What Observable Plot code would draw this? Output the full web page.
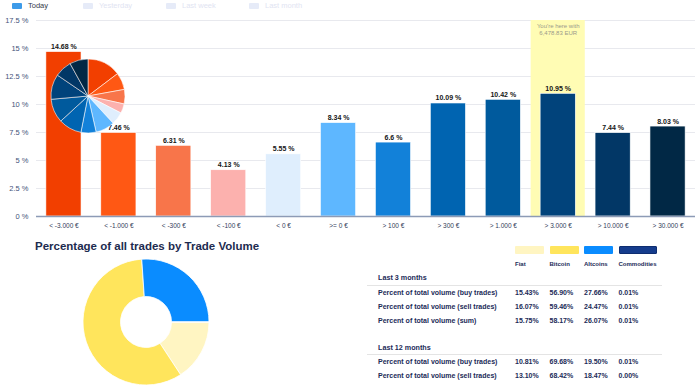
<!DOCTYPE html>
<html><head><meta charset="utf-8">
<script src="https://cdn.jsdelivr.net/npm/d3@7"></script>
<script src="https://cdn.jsdelivr.net/npm/@observablehq/plot@0.6"></script>
<style>
body{margin:0;background:#fff;font-family:"Liberation Sans",Arial,sans-serif;}
#root{position:relative;width:700px;height:387px;overflow:hidden;}
.abs{position:absolute;white-space:nowrap;}
.leg{font-size:7.5px;line-height:9px;}
.sw{position:absolute;border-radius:1px;}
.title{font-size:11.5px;font-weight:bold;color:#1d2b4f;}
.tb{font-size:7px;font-weight:bold;color:#1b2b58;line-height:9px;}
.hdr{font-size:6px;font-weight:bold;color:#1b2b58;line-height:8px;}
.hline{position:absolute;height:1px;background:#e4e4e4;}
</style></head><body><div id="root"></div>
<script>
// ---- data ----
const categories = ["< -3.000 €","< -1.000 €","< -300 €","< -100 €","< 0 €",">= 0 €","> 100 €","> 300 €","> 1.000 €","> 3.000 €","> 10.000 €","> 30.000 €"];
const shares = [14.68, 7.46, 6.31, 4.13, 5.55, 8.34, 6.6, 10.09, 10.42, 10.95, 7.44, 8.03];
const barColors = ["#f23f00","#ff5814","#f8754a","#fcb1ae","#dfeefd","#5eb7ff","#1281d9","#0064b1","#005a9d","#01437b","#023766","#012845"];
const yTicks = [0, 2.5, 5, 7.5, 10, 12.5, 15, 17.5];
const currentBucket = "> 3.000 €";
const currentNote = ["You're here with", "6,478.83 EUR"];
const legendItems = ["Today", "Yesterday", "Last week", "Last month"];
const titleText = "Percentage of all trades by Trade Volume";
const assetClasses = ["Fiat", "Bitcoin", "Altcoins", "Commodities"];
const assetColors = ["#fff5c2", "#ffe55c", "#0a8cff", "#153c8c"];
const donutShares = [15.75, 58.17, 26.07, 0.01];
const rowLabels = ["Percent of total volume (buy trades)", "Percent of total volume (sell trades)", "Percent of total volume (sum)"];
const groups = ["Last 3 months", "Last 12 months"];
const values3m = [[15.43, 56.90, 27.66, 0.01], [16.07, 59.46, 24.47, 0.01], [15.75, 58.17, 26.07, 0.01]];
const values12m = [[10.81, 69.68, 19.50, 0.01], [13.10, 68.42, 18.47, 0.00]];

const root = document.getElementById("root");
function el(tag, cls, css, text) {
  const e = document.createElement(tag);
  if (cls) e.className = cls;
  Object.assign(e.style, css || {});
  if (text != null) e.textContent = text;
  root.appendChild(e);
  return e;
}

// ---- bar chart ----
const data = categories.map((c, i) => ({cat: c, v: shares[i]}));
const pieArcs = d3.pie().sort(null).value(d => d.v)(data);
const smallPie = (index, scales) => {
  const g = d3.create("svg:g").attr("transform", "translate(88,96)");
  const arc = d3.arc().innerRadius(0).outerRadius(37);
  g.selectAll("path").data(pieArcs).join("path")
    .attr("d", arc).attr("fill", d => scales.color(d.data.cat))
    .attr("stroke", "#fff").attr("stroke-width", 0.7).attr("stroke-opacity", 0.8);
  return g.node();
};

const bars = Plot.plot({
  width: 700, height: 232,
  marginTop: 20, marginBottom: 16, marginLeft: 36, marginRight: 5,
  x: {domain: categories, paddingInner: 0.36, paddingOuter: 0.18, round: false, label: null},
  y: {domain: [0, 17.5], label: null},
  color: {domain: categories, range: barColors},
  style: {fontFamily: "'Liberation Sans', Arial, sans-serif", background: "transparent"},
  marks: [
    Plot.gridY(yTicks, {stroke: "#e8e9ee", strokeOpacity: 1}),
    Plot.barY([currentBucket], {x: d => d, y1: 0, y2: 17.5, fill: "#fffcb4", insetLeft: -9.5, insetRight: -9.5}),
    Plot.text([currentNote.join("\n")], {x: () => currentBucket, y: 17.5, text: d => d, lineAnchor: "top", dy: 2, fontSize: 6, fill: "#9a9a8a", lineHeight: 1.25}),
    Plot.barY(data, {x: "cat", y: "v", fill: "cat", stroke: "#fff", strokeWidth: 0.6}),
    Plot.text(data, {x: "cat", y: "v", text: d => d.v + " %", lineAnchor: "bottom", dy: -3, fontSize: 7, fontWeight: "bold", fill: "#151515"}),
    Plot.ruleY([0], {stroke: "#8d9bb6", strokeWidth: 1.5}),
    Plot.axisY(yTicks, {tickSize: 0, tickPadding: 8, tickFormat: d => d + " %", fontSize: 7.5, fill: "#45537a"}),
    Plot.axisX({tickSize: 0, tickPadding: 7, fontSize: 6.5, fill: "#343d5a"}),
    smallPie
  ]
});
bars.style.position = "absolute"; bars.style.left = "0px"; bars.style.top = "0px";
root.appendChild(bars);

// ---- top legend ----
const legX = [12, 83, 166, 249];
legendItems.forEach((t, i) => {
  const on = i === 0;
  el("div", "sw", {left: legX[i] + "px", top: "3px", width: "10px", height: "6px", background: on ? "#3d9be9" : "#e6ebf8"});
  el("div", "abs leg", {left: (legX[i] + 16) + "px", top: "1px", color: on ? "#333a4a" : "#dfe4f2"}, t);
});

// ---- title ----
el("div", "abs title", {left: "35px", top: "240px"}, titleText);

// ---- donut ----
const donutData = assetClasses.map((a, i) => ({a, v: donutShares[i]}));
const donutArcs = d3.pie().sort(null).value(d => d.v).startAngle(Math.PI / 2).endAngle(Math.PI / 2 + 2 * Math.PI)(donutData);
const donut = Plot.plot({
  width: 140, height: 132, margin: 0,
  x: {domain: [0, 1], axis: null}, y: {domain: [0, 1], axis: null},
  color: {domain: assetClasses, range: assetColors},
  marks: [
    Plot.dot(donutData, {x: 0.5, y: 0.5, r: 0, fill: "a"}),
    (index, scales) => {
      const g = d3.create("svg:g").attr("transform", "translate(70,65)");
      const arc = d3.arc().innerRadius(25.5).outerRadius(63);
      g.selectAll("path").data(donutArcs).join("path")
        .attr("d", arc).attr("fill", d => scales.color(d.data.a))
        .attr("stroke", "#fff").attr("stroke-width", 0.8);
      return g.node();
    }
  ]
});
donut.style.position = "absolute"; donut.style.left = "76px"; donut.style.top = "257px";
root.appendChild(donut);

// ---- table ----
const colX = [515, 549.5, 584, 618.5];
const swW = [29, 29, 28.5, 38];
assetClasses.forEach((a, i) => {
  el("div", "sw", {left: colX[i] + "px", top: "246px", width: swW[i] + "px", height: "8px", background: assetColors[i], boxSizing: "border-box", border: i === 3 ? "1px solid #0e2d70" : "none"});
  el("div", "abs hdr", {left: colX[i] + "px", top: "260px"}, a);
});
function group(name, gy, lineY, rowsY, vals) {
  el("div", "abs tb", {left: "378px", top: (gy - 4.5) + "px", fontSize: "7.2px"}, name);
  el("div", "hline", {left: "367px", top: lineY + "px", width: "295px"});
  vals.forEach((row, r) => {
    el("div", "abs tb", {left: "378px", top: (rowsY[r] - 4.5) + "px"}, rowLabels[r]);
    row.forEach((v, c) => el("div", "abs tb", {left: colX[c] + "px", top: (rowsY[r] - 4.5) + "px"}, v.toFixed(2) + "%"));
  });
}
group(groups[0], 277.5, 285, [292.3, 306, 320], values3m);
group(groups[1], 347.3, 354, [361.7, 375.3], values12m);
</script>
</body></html>
